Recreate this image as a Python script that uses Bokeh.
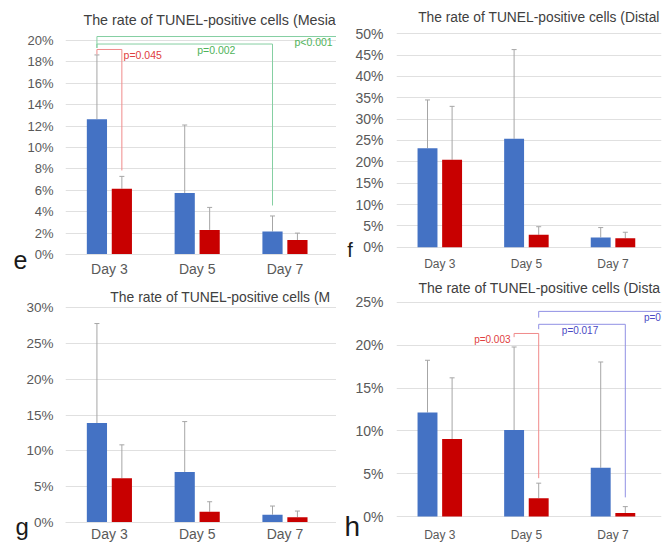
from bokeh.plotting import figure
from bokeh.layouts import gridplot
from bokeh.models import Range1d, FixedTicker, ColumnDataSource, Whisker, TeeHead, Label
from bokeh.core.properties import value
from bokeh.embed import file_html
from bokeh.resources import INLINE

# ---------------- data ----------------
days = ["Day 3", "Day 5", "Day 7"]

e_blue = [12.65, 5.75, 2.15]
e_blue_sd = [6.0, 6.35, 1.45]
e_red = [6.15, 2.3, 1.35]
e_red_sd = [1.15, 2.1, 0.65]
e_ticks = [0, 2, 4, 6, 8, 10, 12, 14, 16, 18, 20]

f_blue = [23.2, 25.4, 2.3]
f_blue_sd = [11.3, 20.9, 2.3]
f_red = [20.5, 2.9, 2.1]
f_red_sd = [12.5, 1.9, 1.4]
f_ticks = [0, 5, 10, 15, 20, 25, 30, 35, 40, 45, 50]

g_blue = [13.9, 7.05, 1.1]
g_blue_sd = [13.9, 7.05, 1.2]
g_red = [6.2, 1.5, 0.75]
g_red_sd = [4.65, 1.4, 0.85]
g_ticks = [0, 5, 10, 15, 20, 25, 30]

h_blue = [12.15, 10.1, 5.7]
h_blue_sd = [6.1, 9.7, 12.35]
h_red = [9.05, 2.15, 0.42]
h_red_sd = [7.15, 1.75, 0.74]
h_ticks = [0, 5, 10, 15, 20, 25]

e_title = "The rate of TUNEL-positive  cells (Mesia"
f_title = "The rate of TUNEL-positive  cells (Distal"
g_title = "The rate of TUNEL-positive  cells (M"
h_title = "The rate of TUNEL-positive  cells (Dista"

e_pvals = ["p=0.045", "p=0.002", "p<0.001"]
h_pvals = ["p=0.003", "p=0.017", "p=0"]

# ---------------- style ----------------
FONT = "Liberation Sans"
BLUE = "#4472C4"
RED = "#C80000"
ERR = "#a6a6a6"
GRID = "#e0e0e0"
TICK = "#595959"
TITLE = "#404040"
OFF = 0.142
BW = 0.23

LRED = "#f08a8a"
TRED = "#e04040"
LGREEN = "#85cfa2"
TGREEN = "#4fb35a"
LBLUE = "#9090e4"
TBLUE = "#4a4ac4"


def panel(width, height, borders, xr, yr, ticks, blue, blue_sd, red, red_sd,
          ytick_size, xlab_size, xlab_standoff, ystandoff, base_line):
    p = figure(width=width, height=height, output_backend="svg", toolbar_location=None,
               x_range=Range1d(*xr), y_range=Range1d(*yr),
               min_border_left=borders[0], min_border_right=borders[1],
               min_border_top=borders[2], min_border_bottom=borders[3])
    p.outline_line_color = None
    p.background_fill_color = "white"
    p.border_fill_color = "white"
    xc = [i + 0.5 for i in range(len(days))]
    xb = [x - OFF for x in xc]
    xr_ = [x + OFF for x in xc]
    sb = ColumnDataSource(dict(x=xb, top=blue, up=[m + s for m, s in zip(blue, blue_sd)]))
    sr = ColumnDataSource(dict(x=xr_, top=red, up=[m + s for m, s in zip(red, red_sd)]))
    p.vbar(x="x", top="top", bottom=0, width=BW, source=sb, fill_color=BLUE, line_color=None)
    p.vbar(x="x", top="top", bottom=0, width=BW, source=sr, fill_color=RED, line_color=None)
    for s in (sb, sr):
        w = Whisker(base="x", lower="top", upper="up", source=s, dimension="height",
                    line_color=ERR, line_width=1,
                    upper_head=TeeHead(size=5, line_color=ERR, line_width=1), lower_head=None)
        p.add_layout(w)
    # axes
    p.xaxis.ticker = FixedTicker(ticks=xc)
    p.xaxis.major_label_overrides = {x: d for x, d in zip(xc, days)}
    p.xaxis.axis_line_color = GRID if base_line else None
    p.xaxis.major_tick_line_color = None
    p.xaxis.minor_tick_line_color = None
    p.xaxis.major_tick_out = 0
    p.xaxis.major_tick_in = 0
    p.xaxis.minor_tick_out = 0
    p.xaxis.major_label_text_font = FONT
    p.xaxis.major_label_text_font_size = xlab_size
    p.xaxis.major_label_text_color = TICK
    p.xaxis.major_label_standoff = xlab_standoff
    p.yaxis.ticker = FixedTicker(ticks=ticks)
    p.yaxis.major_label_overrides = {t: f"{t}%" for t in ticks}
    p.yaxis.axis_line_color = None
    p.yaxis.major_tick_line_color = None
    p.yaxis.minor_tick_line_color = None
    p.yaxis.major_tick_out = 0
    p.yaxis.major_tick_in = 0
    p.yaxis.minor_tick_out = 0
    p.yaxis.major_label_text_font = FONT
    p.yaxis.major_label_text_font_size = ytick_size
    p.yaxis.major_label_text_color = TICK
    p.yaxis.major_label_standoff = ystandoff
    p.xgrid.grid_line_color = None
    p.ygrid.ticker = FixedTicker(ticks=ticks)
    p.ygrid.grid_line_color = GRID
    return p, xb, xr_


def title(p, text, x, y, size):
    p.add_layout(Label(x=x, y=y, text=text, text_font=FONT, text_font_size=size,
                       text_color=TITLE, text_baseline="middle", text_align="left"), "above")


def letter(p, text, x, y, size):
    p.add_layout(Label(x=x, y=y, text=text, text_font=FONT, text_font_size=size,
                       text_color="#1a1a1a", text_baseline="alphabetic", text_align="left"), "left")


def bracket(p, xl, xrr, top, yl, yr, color):
    p.line(x=[xl, xl, xrr, xrr], y=[yl, top, top, yr], line_color=color, line_width=1)


def ptext(p, x, y, text, color, size, align):
    p.text(x=[x], y=[y], text=[text], text_font=value(FONT), text_font_size=size,
           text_color=color, text_baseline="middle", text_align=align)


# ---------------- panel e ----------------
e_xr = (0, 3.087)
pe, eb, er = panel(336, 280, (65, 0, 28, 26), e_xr, (0, 21.12), e_ticks,
                   e_blue, e_blue_sd, e_red, e_red_sd, "13px", "14px", 6, 12, True)
bracket(pe, eb[0], e_xr[1] + 0.3, 20.37, 19.3, 20.37, LGREEN)
bracket(pe, eb[0], eb[2], 19.67, 19.3, 4.58, LGREEN)
bracket(pe, eb[0], er[0], 19.16, 18.7, 7.85, LRED)
ptext(pe, er[0] + 0.02, 18.69, e_pvals[0], TRED, "10.5px", "left")
ptext(pe, 1.50, 19.07, e_pvals[1], TGREEN, "10.5px", "left")
ptext(pe, 2.608, 19.9, e_pvals[2], TGREEN, "10.5px", "left")
title(pe, e_title, 0.204, 21.87, "14.3px")
letter(pe, "e", -0.593, -0.5, "25px")

# ---------------- panel f ----------------
f_xr = (0, 3.06)
pf, fb, fr = panel(336, 280, (58, 11, 28, 26), f_xr, (-1.71, 51.24), f_ticks,
                   f_blue, f_blue_sd, f_red, f_red_sd, "14px", "12px", 2, 13, False)
title(pf, f_title, 0.25, 53.9, "13.8px")
letter(pf, "f", -0.57, -0.6, "20px")

# ---------------- panel g ----------------
pg, gb, gr = panel(336, 264, (65, 0, 20, 20), e_xr, (0, 31.02), g_ticks,
                   g_blue, g_blue_sd, g_red, g_red_sd, "13.5px", "14px", 3, 12, True)
title(pg, g_title, 0.511, 31.57, "13.9px")
letter(pg, "g", -0.57, -0.6, "24px")

# ---------------- panel h ----------------
pH, hb, hr = panel(336, 264, (58, 11, 20, 20), f_xr, (-0.694, 25.23), h_ticks,
                   h_blue, h_blue_sd, h_red, h_red_sd, "14px", "12px", 5, 13, False)
bracket(pH, hb[1], hr[1], 21.38, 20.95, 4.48, LRED)
bracket(pH, hr[1], hr[2], 22.45, 21.88, 2.24, LBLUE)
bracket(pH, hr[1], f_xr[1] + 0.3, 23.96, 23.23, 23.96, LBLUE)
ptext(pH, 1.317, 20.68, h_pvals[0], TRED, "10px", "right")
ptext(pH, 1.909, 21.68, h_pvals[1], TBLUE, "10px", "left")
ptext(pH, 2.857, 23.3, h_pvals[2], TBLUE, "10px", "left")
title(pH, h_title, 0.253, 26.74, "14px")
letter(pH, "h", -0.6, -1.16, "28px")

grid = gridplot([[pe, pf], [pg, pH]], toolbar_location=None)
open("out.html", "w").write(file_html(grid, INLINE))
